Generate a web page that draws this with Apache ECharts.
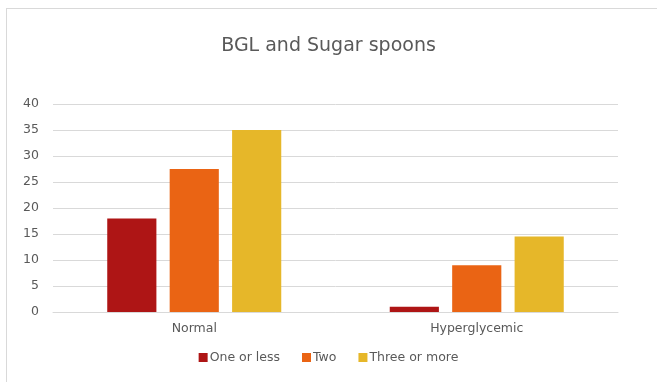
<!DOCTYPE html>
<html>
<head>
<meta charset="utf-8">
<script src="https://cdn.jsdelivr.net/npm/echarts@6/dist/echarts.min.js"></script>
<style>
	body { margin: 0; background: #fff; overflow: hidden; }
	#frame { position: absolute; left: 6px; top: 8px; width: 700px; height: 420px; border: 1px solid #d9d9d9; }
	#main { position: absolute; left: 0; top: 0; width: 657px; height: 382px; }
</style>
</head>
<body>
<div id="frame"></div>
<div id="main"></div>
<script>
var categories = ['Normal', 'Hyperglycemic'];
var seriesNames = ['One or less', 'Two', 'Three or more'];
var oneOrLess = [18, 1];
var two = [27.5, 9];
var threeOrMore = [35, 14.5];
var colors = ['#ae1515', '#ea6414', '#e6b729'];

var myChart = echarts.init(document.getElementById('main'));
var font = '"DejaVu Sans", sans-serif';
option = {
	animation: false,
	title: {
		text: 'BGL and Sugar spoons',
		left: 'center',
		top: 32,
		textStyle: { fontFamily: font, fontSize: 19, fontWeight: 'normal', color: '#595959' }
	},
	legend: {
		data: seriesNames,
		bottom: 13,
		left: 'center',
		itemWidth: 9,
		itemHeight: 9,
		itemGap: 22,
		icon: 'rect',
		textStyle: { fontFamily: font, fontSize: 12.5, color: '#595959', padding: [0, 0, 0, -3] }
	},
	grid: {
		left: 53,
		right: 39,
		top: 104,
		bottom: 70
	},
	xAxis: {
		type: 'category',
		data: categories,
		axisLine: { lineStyle: { color: '#d9d9d9' } },
		axisTick: { show: false },
		axisLabel: { fontFamily: font, fontSize: 12.5, color: '#595959', margin: 10 }
	},
	yAxis: {
		type: 'value',
		min: 0,
		max: 40,
		interval: 5,
		axisLine: { show: false },
		axisTick: { show: false },
		splitLine: { lineStyle: { color: '#d9d9d9' } },
		axisLabel: { fontFamily: font, fontSize: 12.5, color: '#595959', margin: 14 }
	},
	series: [
		{ name: seriesNames[0], type: 'bar', data: oneOrLess, itemStyle: { color: colors[0] }, barWidth: '17.4%', barGap: '27%' },
		{ name: seriesNames[1], type: 'bar', data: two, itemStyle: { color: colors[1] }, barWidth: '17.4%', barGap: '27%' },
		{ name: seriesNames[2], type: 'bar', data: threeOrMore, itemStyle: { color: colors[2] }, barWidth: '17.4%', barGap: '27%' }
	]
};
myChart.setOption(option);
</script>
</body>
</html>
